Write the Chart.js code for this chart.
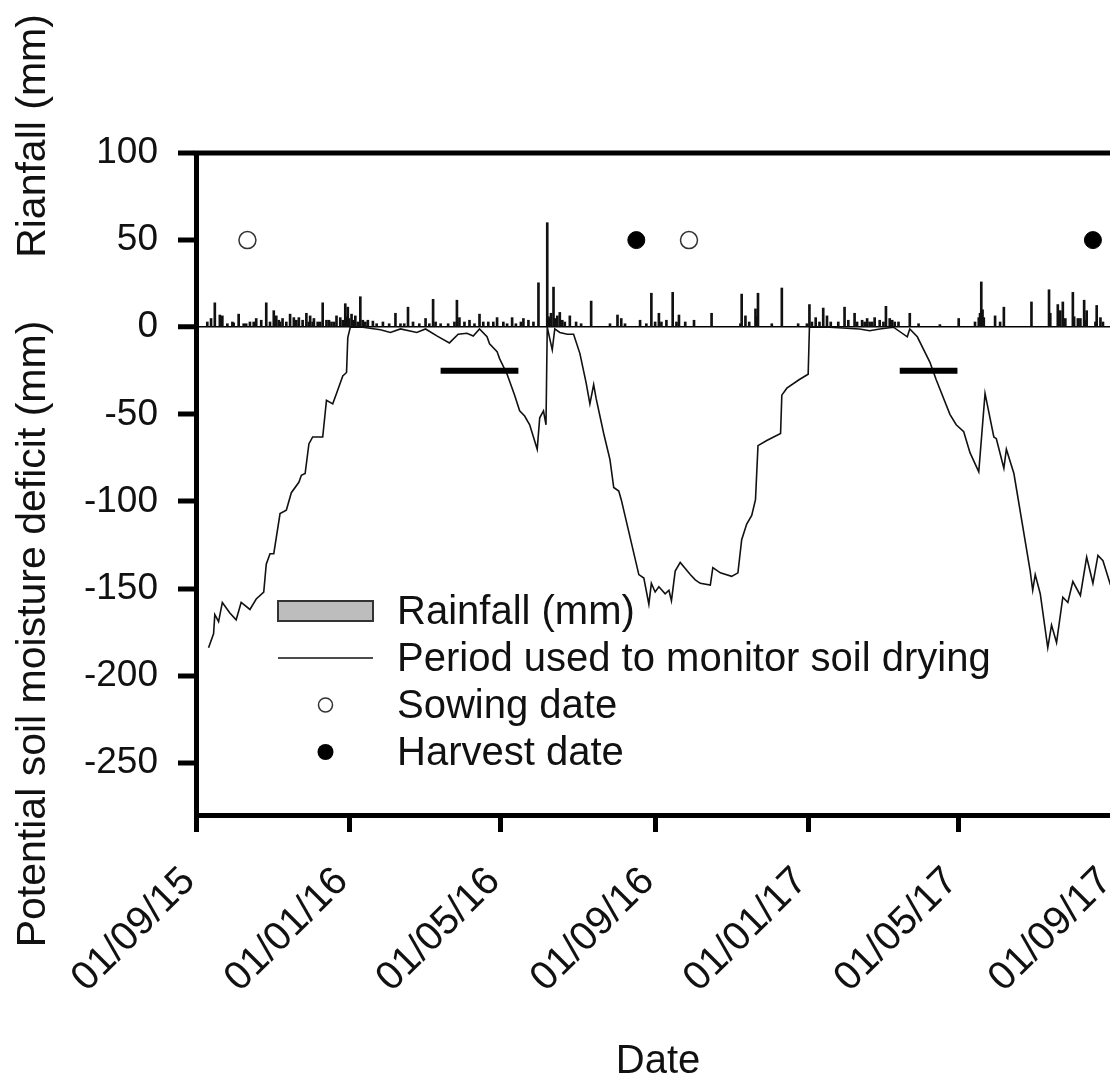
<!DOCTYPE html>
<html>
<head>
<meta charset="utf-8">
<title>Rainfall and potential soil moisture deficit</title>
<script src="https://cdn.jsdelivr.net/npm/chart.js@4.4.1/dist/chart.umd.min.js"></script>
<style>
  html, body { margin: 0; padding: 0; background: #fff; overflow: hidden; }
  #wrap { width: 1110px; height: 1081px; overflow: hidden; position: relative; }
  canvas { display: block; }
</style>
</head>
<body>
<div id="wrap"><canvas id="c" width="1125" height="1081"></canvas></div>
<script>
// ---- Daily rainfall (mm) ----
const rainDates = [
  '2015-09-10','2015-09-13','2015-09-16','2015-09-20','2015-09-22','2015-09-26','2015-09-30','2015-10-01',
  '2015-10-05','2015-10-09','2015-10-11','2015-10-14','2015-10-17','2015-10-19','2015-10-23','2015-10-27',
  '2015-10-30','2015-11-02','2015-11-04','2015-11-06','2015-11-07','2015-11-09','2015-11-12','2015-11-15',
  '2015-11-18','2015-11-20','2015-11-22','2015-11-25','2015-11-28','2015-11-30','2015-12-01','2015-12-03',
  '2015-12-04','2015-12-07','2015-12-09','2015-12-11','2015-12-14','2015-12-16','2015-12-18','2015-12-20',
  '2015-12-22','2015-12-25','2015-12-27','2015-12-29','2015-12-30','2015-12-31','2016-01-01','2016-01-03',
  '2016-01-04','2016-01-06','2016-01-08','2016-01-10','2016-01-12','2016-01-14','2016-01-16','2016-01-20',
  '2016-01-23','2016-01-28','2016-02-02','2016-02-07','2016-02-11','2016-02-14','2016-02-17','2016-02-21',
  '2016-02-26','2016-03-02','2016-03-05','2016-03-08','2016-03-10','2016-03-14','2016-03-20','2016-03-25',
  '2016-03-27','2016-03-29','2016-04-02','2016-04-06','2016-04-10','2016-04-14','2016-04-17','2016-04-21',
  '2016-04-25','2016-04-28','2016-05-03','2016-05-06','2016-05-10','2016-05-13','2016-05-17','2016-05-19',
  '2016-05-23','2016-05-27','2016-05-31','2016-06-07','2016-06-08','2016-06-09','2016-06-10','2016-06-12',
  '2016-06-13','2016-06-15','2016-06-17','2016-06-19','2016-06-21','2016-06-25','2016-06-30','2016-07-04',
  '2016-07-12','2016-07-27','2016-08-02','2016-08-05','2016-08-08','2016-08-20','2016-08-25','2016-08-29',
  '2016-09-01','2016-09-04','2016-09-06','2016-09-10','2016-09-15','2016-09-18','2016-09-20','2016-09-25',
  '2016-10-02','2016-10-16','2016-11-08','2016-11-09','2016-11-12','2016-11-15','2016-11-20','2016-11-21',
  '2016-11-22','2016-12-03','2016-12-11','2016-12-24','2016-12-31','2017-01-02','2017-01-04','2017-01-07',
  '2017-01-10','2017-01-13','2017-01-16','2017-01-19','2017-01-25','2017-01-30','2017-02-02','2017-02-07',
  '2017-02-09','2017-02-13','2017-02-15','2017-02-17','2017-02-19','2017-02-21','2017-02-23','2017-02-27',
  '2017-03-02','2017-03-04','2017-03-07','2017-03-09','2017-03-11','2017-03-14','2017-03-23','2017-03-30',
  '2017-04-16','2017-05-01','2017-05-14','2017-05-17','2017-05-18','2017-05-19','2017-05-20','2017-05-21',
  '2017-05-30','2017-06-03','2017-06-06','2017-06-28','2017-07-12','2017-07-13','2017-07-19','2017-07-20',
  '2017-07-21','2017-07-23','2017-07-25','2017-07-31','2017-08-01','2017-08-04','2017-08-06','2017-08-09',
  '2017-08-10','2017-08-11','2017-08-18','2017-08-19','2017-08-22','2017-08-24'
];
const rainMm = [
  3, 5, 14, 7, 6.5, 2, 3, 2.5,
  7.5, 2, 2, 3, 3, 5, 4, 14,
  3, 9.5, 6.5, 4, 3, 5, 3, 7.5,
  5.5, 4, 5.5, 4, 8, 3, 6.5, 3,
  5, 3, 3, 14, 4, 4, 3, 3,
  6.5, 5.5, 4, 13.5, 6, 11.5, 5, 7.5,
  4, 6.5, 3, 17.5, 4, 3, 4, 3.5,
  2, 3, 2, 8, 2, 2, 11.5, 3,
  2, 5, 2, 16, 3, 2, 2, 3,
  15.5, 5.5, 3, 4, 2, 7.5, 3, 3,
  3, 5.5, 3, 2, 5.5, 2, 3, 5,
  4, 3, 25.5, 60, 6, 5, 8, 23,
  5, 6.5, 8.5, 4, 3, 6.5, 3, 2,
  15, 2, 7, 5, 2, 4, 2, 19.5,
  3, 8, 3, 4, 20, 3, 7, 3,
  4, 8, 2, 19, 6.5, 3, 10.5, 6,
  19.5, 2, 22.5, 2, 2, 13, 3, 5.5,
  3, 11, 6.5, 3, 3, 11.5, 4, 8,
  3, 4, 3, 5, 3, 3, 5.5, 4,
  3, 12, 5, 4, 3, 3, 8, 2,
  1.5, 5, 3, 5.5, 8, 26, 10, 5.5,
  6.5, 3, 11.5, 14.5, 21.5, 8, 13, 6,
  9.5, 14.5, 5, 20, 6, 5, 5, 15.5,
  4, 9.5, 3, 12.5, 5.5, 3
];

// ---- Potential soil moisture deficit (mm) ----
const smdDates = [
  '2015-09-11','2015-09-15','2015-09-16','2015-09-19','2015-09-22','2015-09-28','2015-10-03','2015-10-07',
  '2015-10-14','2015-10-19','2015-10-25','2015-10-27','2015-10-30','2015-11-02','2015-11-07','2015-11-12',
  '2015-11-16','2015-11-22','2015-11-24','2015-11-27','2015-11-30','2015-12-03','2015-12-11','2015-12-14',
  '2015-12-19','2015-12-22','2015-12-27','2015-12-30','2015-12-31','2016-01-02','2016-01-12','2016-01-26',
  '2016-02-03','2016-02-11','2016-02-24','2016-03-02','2016-03-11','2016-03-21','2016-03-28','2016-04-04',
  '2016-04-09','2016-04-14','2016-04-20','2016-04-22','2016-04-28','2016-04-30','2016-05-06','2016-05-10',
  '2016-05-12','2016-05-16','2016-05-20','2016-05-24','2016-05-30','2016-06-01','2016-06-04','2016-06-06',
  '2016-06-07','2016-06-11','2016-06-13','2016-06-17','2016-06-23','2016-06-28','2016-07-03','2016-07-08',
  '2016-07-11','2016-07-14','2016-07-16','2016-07-22','2016-07-27','2016-07-30','2016-08-03','2016-08-05',
  '2016-08-19','2016-08-23','2016-08-27','2016-08-29','2016-09-01','2016-09-04','2016-09-09','2016-09-12',
  '2016-09-14','2016-09-17','2016-09-21','2016-09-29','2016-10-03','2016-10-07','2016-10-15','2016-10-17',
  '2016-10-23','2016-11-01','2016-11-06','2016-11-09','2016-11-13','2016-11-17','2016-11-20','2016-11-22',
  '2016-11-29','2016-12-10','2016-12-11','2016-12-15','2016-12-25','2017-01-01','2017-01-02','2017-01-18',
  '2017-02-11','2017-02-19','2017-02-27','2017-03-10','2017-03-21','2017-03-23','2017-03-29','2017-04-08',
  '2017-04-13','2017-04-24','2017-04-29','2017-05-05','2017-05-10','2017-05-17','2017-05-22','2017-05-29',
  '2017-05-31','2017-06-06','2017-06-08','2017-06-14','2017-06-27','2017-06-29','2017-07-01','2017-07-05',
  '2017-07-11','2017-07-14','2017-07-18','2017-07-23','2017-07-27','2017-07-31','2017-08-06','2017-08-11',
  '2017-08-16','2017-08-20','2017-08-24','2017-08-30'
];
const smdMm = [
  -184, -176, -165, -169, -158, -164, -168, -158,
  -162, -156, -152, -136, -130, -130, -107, -105,
  -95, -89, -85, -84, -67, -63, -63, -42,
  -44, -38, -28, -26, -6, 0, 0, -1.5,
  -3, -1, -3, -1, -5, -9, -4, -3.5,
  -5, -1, -5.5, -9.5, -14, -18, -27, -35,
  -39, -48, -51, -56, -70, -52, -48, -56,
  0, -13, -1, -3, -4, -4, -15, -32,
  -44, -33, -41, -61, -76, -92, -94, -99,
  -142, -144, -159, -147, -152, -149, -153, -151,
  -157, -140, -135, -142, -145, -147, -148, -138,
  -141, -143, -141, -122, -113, -108, -99, -68,
  -65, -61, -39, -35, -30, -27, 0, 0,
  -1, -2, -1, 0, -5.5, -1, -5.5, -20,
  -30, -50, -56, -60, -72, -83, -38, -63,
  -64, -81, -70, -84, -140, -151, -142, -153,
  -184, -171, -181, -155, -158, -146, -154, -132,
  -147, -131, -134, -148
];

// ---- Periods used to monitor soil drying ----
const periodStart = ['2016-03-14', '2017-03-15'];
const periodEnd = ['2016-05-15', '2017-04-30'];
const periodLevel = -25;

// ---- Crop calendar ----
const sowingDates = ['2015-10-12', '2016-09-28'];
const harvestDates = ['2016-08-17', '2017-08-16'];
const markerLevel = 50;

// ---- Axes ----
const xTickDates = ['2015-09-01','2016-01-01','2016-05-01','2016-09-01','2017-01-01','2017-05-01','2017-09-01'];
const xTickLabels = ['01/09/15','01/01/16','01/05/16','01/09/16','01/01/17','01/05/17','01/09/17'];
const yTicks = [-250, -200, -150, -100, -50, 0, 50, 100];
const xStart = '2015-09-01';
const xEnd = '2017-09-01';
const yMin = -280;
const yMax = 100;

const FONT = '"Liberation Sans", Arial, Helvetica, sans-serif';
const INK = '#111';

function toMs(s) { return Date.parse(s + 'T00:00:00Z'); }

const rainData = rainDates.map((d, i) => ({ x: toMs(d), y: rainMm[i] }));
const smdData = smdDates.map((d, i) => ({ x: toMs(d), y: smdMm[i] }));
const periodData = [];
periodStart.forEach((d, i) => {
  if (i > 0) periodData.push({ x: toMs(d) - 86400000, y: null });
  periodData.push({ x: toMs(d), y: periodLevel });
  periodData.push({ x: toMs(periodEnd[i]), y: periodLevel });
});
const sowingData = sowingDates.map(d => ({ x: toMs(d), y: markerLevel }));
const harvestData = harvestDates.map(d => ({ x: toMs(d), y: markerLevel }));

// Frame line along the top and right of the plotting area
const framePlugin = {
  id: 'frame',
  afterDraw(chart) {
    const { ctx, chartArea: a } = chart;
    ctx.save();
    ctx.strokeStyle = '#000';
    ctx.lineWidth = 5;
    ctx.lineCap = 'square';
    ctx.beginPath();
    ctx.moveTo(a.left, a.top);
    ctx.lineTo(a.right, a.top);
    ctx.lineTo(a.right, a.bottom);
    ctx.stroke();
    ctx.restore();
  }
};

// Axis titles
const titlesPlugin = {
  id: 'titles',
  afterDraw(chart) {
    const { ctx } = chart;
    ctx.save();
    ctx.fillStyle = INK;
    ctx.font = '41px ' + FONT;
    ctx.textAlign = 'center';
    ctx.textBaseline = 'middle';
    ctx.save();
    ctx.translate(34, 136);
    ctx.rotate(-Math.PI / 2);
    ctx.fillText('Rianfall (mm)', 0, 0);
    ctx.restore();
    ctx.save();
    ctx.translate(34, 634);
    ctx.rotate(-Math.PI / 2);
    ctx.fillText('Potential soil moisture deficit (mm)', 0, 0);
    ctx.restore();
    ctx.font = '40px ' + FONT;
    ctx.textBaseline = 'alphabetic';
    ctx.fillText('Date', 658, 1073);
    ctx.restore();
  }
};

// Legend drawn inside the plotting area, lower left
const legendPlugin = {
  id: 'innerLegend',
  afterDatasetsDraw(chart) {
    const { ctx, chartArea: a } = chart;
    const x0 = a.left + 82, x1 = a.left + 177, tx = a.left + 201;
    const rowY = [611, 658, 705, 752];
    ctx.save();
    ctx.font = '40px ' + FONT;
    ctx.fillStyle = INK;
    ctx.textAlign = 'left';
    ctx.textBaseline = 'alphabetic';
    const items = chart.data.datasets.filter(ds => ds.legendSymbol);
    items.forEach((ds, i) => {
      const y = rowY[i];
      const cx = (x0 + x1) / 2;
      ctx.save();
      if (ds.legendSymbol === 'box') {
        ctx.fillStyle = '#bdbdbd';
        ctx.strokeStyle = '#333';
        ctx.lineWidth = 2;
        ctx.fillRect(x0, y - 10, x1 - x0, 20);
        ctx.strokeRect(x0, y - 10, x1 - x0, 20);
      } else if (ds.legendSymbol === 'line') {
        ctx.strokeStyle = '#111';
        ctx.lineWidth = 1.5;
        ctx.beginPath();
        ctx.moveTo(x0, y);
        ctx.lineTo(x1, y);
        ctx.stroke();
      } else if (ds.legendSymbol === 'open') {
        ctx.fillStyle = '#fff';
        ctx.strokeStyle = '#333';
        ctx.lineWidth = 1.5;
        ctx.beginPath();
        ctx.arc(cx, y, 7, 0, Math.PI * 2);
        ctx.fill();
        ctx.stroke();
      } else if (ds.legendSymbol === 'dot') {
        ctx.fillStyle = '#000';
        ctx.beginPath();
        ctx.arc(cx, y, 8, 0, Math.PI * 2);
        ctx.fill();
      }
      ctx.restore();
      ctx.fillText(ds.label, tx, y + 13);
    });
    ctx.restore();
  }
};

new Chart(document.getElementById('c'), {
  type: 'bar',
  data: {
    datasets: [
      {
        type: 'bar',
        label: 'Rainfall (mm)',
        legendSymbol: 'box',
        data: rainData,
        backgroundColor: '#111',
        borderWidth: 0,
        barThickness: 2,
        order: 5
      },
      {
        type: 'line',
        label: 'Period used to monitor soil drying',
        legendSymbol: 'line',
        data: periodData,
        borderColor: '#000',
        borderWidth: 6,
        borderCapStyle: 'butt',
        pointRadius: 0,
        spanGaps: false,
        order: 2
      },
      {
        type: 'line',
        label: 'Sowing date',
        legendSymbol: 'open',
        data: sowingData,
        showLine: false,
        pointRadius: 8.5,
        pointBackgroundColor: '#fff',
        pointBorderColor: '#333',
        pointBorderWidth: 1.5,
        order: 1
      },
      {
        type: 'line',
        label: 'Harvest date',
        legendSymbol: 'dot',
        data: harvestData,
        showLine: false,
        pointRadius: 8.5,
        pointBackgroundColor: '#000',
        pointBorderColor: '#000',
        pointBorderWidth: 1,
        order: 1
      },
      {
        type: 'line',
        label: 'Potential soil moisture deficit (mm)',
        data: smdData,
        borderColor: '#111',
        borderWidth: 1.6,
        pointRadius: 0,
        tension: 0,
        order: 3
      }
    ]
  },
  options: {
    responsive: false,
    devicePixelRatio: 1,
    animation: false,
    layout: { padding: { top: 153, right: 12, bottom: 0, left: 0 } },
    plugins: {
      legend: { display: false },
      tooltip: { enabled: false },
      title: { display: false }
    },
    scales: {
      x: {
        type: 'linear',
        min: toMs(xStart),
        max: toMs(xEnd),
        offset: false,
        afterBuildTicks: s => { s.ticks = xTickDates.map(d => ({ value: toMs(d) })); },
        afterFit: s => { s.height = 266; s.paddingLeft = 0; s.paddingRight = 0; },
        ticks: {
          autoSkip: false,
          minRotation: 45,
          maxRotation: 45,
          padding: 26,
          labelOffset: -7,
          color: INK,
          font: { family: FONT, size: 40 },
          callback: (v, i) => xTickLabels[i]
        },
        grid: {
          offset: false,
          drawOnChartArea: false,
          drawTicks: true,
          tickLength: 17,
          tickWidth: 5,
          tickColor: '#000'
        },
        border: { display: true, width: 5, color: '#000' }
      },
      y: {
        type: 'linear',
        min: yMin,
        max: yMax,
        afterBuildTicks: s => { s.ticks = yTicks.map(v => ({ value: v })); },
        afterFit: s => { s.width = 196; s.paddingTop = 0; s.paddingBottom = 0; },
        ticks: {
          padding: 20,
          color: INK,
          font: { family: FONT, size: 37 },
          callback: v => String(v)
        },
        grid: {
          drawOnChartArea: true,
          drawTicks: true,
          tickLength: 18,
          tickWidth: 5,
          tickColor: '#000',
          color: c => (c.tick && c.tick.value === 0) ? '#000' : 'rgba(0,0,0,0)',
          lineWidth: c => (c.tick && c.tick.value === 0) ? 1.5 : 0
        },
        border: { display: true, width: 5, color: '#000' }
      }
    }
  },
  plugins: [framePlugin, legendPlugin, titlesPlugin]
});
</script>
</body>
</html>
